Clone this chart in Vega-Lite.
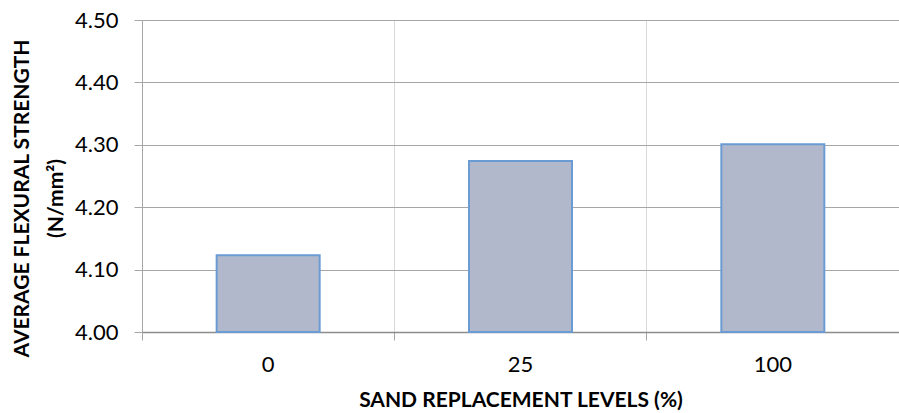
{
  "$schema": "https://vega.github.io/schema/vega-lite/v6.json",
  "autosize": {"type": "none"},
  "width": 757,
  "height": 312,
  "padding": {"left": 142, "top": 20, "right": 0, "bottom": 81},
  "background": "white",
  "config": {
    "view": {"stroke": null},
    "font": "Lato"
  },
  "data": {
    "values": [
      {"level": "0", "strength": 4.123},
      {"level": "25", "strength": 4.274},
      {"level": "100", "strength": 4.301}
    ]
  },
  "mark": {"type": "bar", "fill": "#b1b8cb", "stroke": "#6a9bd3", "strokeWidth": 2, "width": 103},
  "encoding": {
    "x": {
      "field": "level",
      "type": "ordinal",
      "sort": null,
      "scale": {"paddingInner": 0, "paddingOuter": 0},
      "axis": {
        "title": "SAND REPLACEMENT LEVELS (%)",
        "titleFont": "Lato",
        "titleFontSize": 21,
        "titleFontWeight": "bold",
        "titleColor": "#000000",
        "titlePadding": 14,
        "labelAngle": 0,
        "labelFont": "Lato",
        "labelFontSize": 22,
        "labelColor": "#000000",
        "labelPadding": 14,
        "labelOffset": 0,
        "bandPosition": 0,
        "grid": true,
        "gridColor": "#d9d9d9",
        "ticks": true,
        "tickSize": 8,
        "tickColor": "#a6a6a6",
        "domainColor": "#8c8c8c",
        "domainWidth": 1.5
      }
    },
    "y": {
      "field": "strength",
      "type": "quantitative",
      "scale": {"domain": [4.0, 4.5], "zero": false, "nice": false},
      "axis": {
        "title": ["AVERAGE FLEXURAL STRENGTH", "(N/mm²)"],
        "titleFont": "Lato",
        "titleFontSize": 21,
        "titleFontWeight": "bold",
        "titleColor": "#000000",
        "titleLineHeight": 34,
        "titleY": 178,
        "titlePadding": 8,
        "values": [4.0, 4.1, 4.2, 4.3, 4.4, 4.5],
        "format": ".2f",
        "labelFont": "Lato",
        "labelFontSize": 22,
        "labelColor": "#000000",
        "labelPadding": 16,
        "tickSize": 8,
        "tickColor": "#a6a6a6",
        "domainColor": "#a6a6a6",
        "gridColor": "#a6a6a6",
        "grid": true
      }
    },
    "y2": {"datum": 4.0}
  }
}
